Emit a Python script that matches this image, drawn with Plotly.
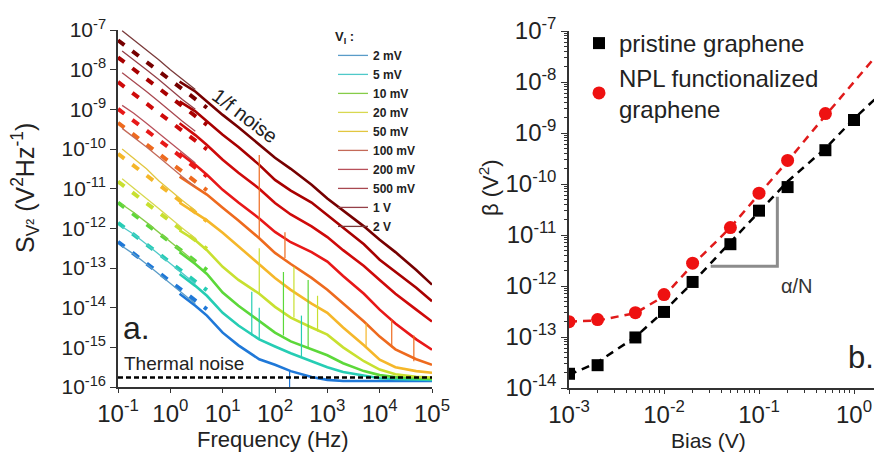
import numpy as np
import plotly.graph_objects as go

FONT = "Liberation Sans, Arial, sans-serif"

# ---------------- Panel a data (log10 of S) ----------------
bias_labels = ["2 mV", "5 mV", "10 mV", "20 mV", "50 mV", "100 mV", "200 mV", "500 mV", "1 V", "2 V"]
thick_colors = ["#1f78d8", "#26cdb4", "#5cd83a", "#c8e030", "#f5b72a", "#ee6a1e",
                "#e81818", "#cf0a0a", "#a80000", "#760000"]
thin_colors = ["#5a9cc8", "#4fc9c9", "#86cc48", "#d8d850", "#e2c640", "#c46a58",
               "#b8505a", "#a84850", "#944048", "#7a3a3a"]

thin_freq = [0.12, 0.2, 0.35, 0.6, 1.0, 1.7, 3.0]
thin_2mV = [-12.45, -12.65, -12.9, -13.15, -13.4, -13.65, -13.9]
thin_5mV = [-11.96, -12.15, -12.4, -12.65, -12.9, -13.15, -13.4]
thin_10mV = [-11.4, -11.6, -11.85, -12.1, -12.35, -12.6, -12.85]
thin_20mV = [-10.75, -11.0, -11.25, -11.5, -11.75, -12.0, -12.25]
thin_50mV = [-10.0, -10.25, -10.5, -10.8, -11.05, -11.3, -11.55]
thin_100mV = [-9.48, -9.7, -9.95, -10.2, -10.45, -10.7, -10.95]
thin_200mV = [-8.9, -9.1, -9.35, -9.6, -9.85, -10.1, -10.35]
thin_500mV = [-8.08, -8.3, -8.55, -8.8, -9.05, -9.3, -9.55]
thin_1V = [-7.53, -7.75, -8.0, -8.25, -8.5, -8.75, -9.0]
thin_2V = [-7.02, -7.25, -7.5, -7.75, -8.0, -8.25, -8.5]

thick_freq = [1.5, 3, 5, 10, 20, 50, 100, 200, 500, 1e3, 2e3, 5e3, 1e4, 2e4, 5e4, 1e5]
thick_2mV = [-13.65, -13.95, -14.2, -14.63, -14.95, -15.3, -15.44, -15.6, -15.75, -15.82, -15.85, -15.85, -15.85, -15.85, -15.85, -15.85]
thick_5mV = [-13.15, -13.45, -13.7, -14.13, -14.45, -14.8, -14.98, -15.15, -15.35, -15.5, -15.62, -15.72, -15.78, -15.8, -15.82, -15.82]
thick_10mV = [-12.6, -12.9, -13.15, -13.62, -13.95, -14.35, -14.63, -14.85, -15.05, -15.2, -15.4, -15.6, -15.7, -15.75, -15.78, -15.8]
thick_20mV = [-12.05, -12.3, -12.55, -12.97, -13.3, -13.65, -13.98, -14.25, -14.5, -14.68, -15.0, -15.35, -15.56, -15.68, -15.74, -15.76]
thick_50mV = [-11.35, -11.6, -11.8, -12.11, -12.45, -12.9, -13.25, -13.55, -13.9, -14.13, -14.5, -14.95, -15.31, -15.5, -15.6, -15.64]
thick_100mV = [-10.7, -10.95, -11.15, -11.48, -11.8, -12.25, -12.62, -12.9, -13.25, -13.55, -13.9, -14.35, -14.73, -15.05, -15.3, -15.44]
thick_200mV = [-10.1, -10.4, -10.65, -11.03, -11.35, -11.75, -12.09, -12.35, -12.6, -12.84, -13.2, -13.65, -14.05, -14.4, -14.8, -15.06]
thick_500mV = [-9.35, -9.65, -9.9, -10.27, -10.6, -11.0, -11.36, -11.65, -11.95, -12.22, -12.55, -12.95, -13.3, -13.65, -14.05, -14.35]
thick_1V = [-8.8, -9.05, -9.3, -9.64, -9.95, -10.4, -10.78, -11.05, -11.35, -11.66, -11.98, -12.4, -12.79, -13.1, -13.5, -13.84]
thick_2V = [-8.3, -8.55, -8.8, -9.14, -9.45, -9.88, -10.22, -10.5, -10.9, -11.25, -11.55, -11.95, -12.29, -12.6, -13.05, -13.42]

fit_freq = [0.1, 5.0]
fit_2mV = [-12.34, -14.04]
fit_5mV = [-11.86, -13.56]
fit_10mV = [-11.35, -13.05]
fit_20mV = [-10.82, -12.52]
fit_50mV = [-10.12, -11.82]
fit_100mV = [-9.34, -11.04]
fit_200mV = [-8.99, -10.69]
fit_500mV = [-8.31, -10.01]
fit_1V = [-7.69, -9.39]
fit_2V = [-7.26, -8.96]

# spikes: frequency, series index, base log10 S, peak log10 S
spike_freq = [50, 50, 50, 36, 145, 155, 230, 430, 190, 17000, 5500, 45000, 650, 320]
spike_series = [5, 3, 1, 1, 2, 5, 3, 2, 0, 5, 4, 5, 3, 1]
spike_base = [-12.25, -13.65, -14.8, -14.7, -14.7, -12.75, -14.25, -15.0, -15.6, -15.0, -15.0, -15.35, -14.6, -15.25]
spike_peak = [-10.15, -12.5, -14.0, -13.6, -13.1, -12.1, -12.97, -13.3, -16.3, -14.3, -14.4, -14.7, -13.7, -14.2]

thermal_freq = [0.1, 1e5]
thermal_level = [1.74e-16, 1.74e-16]

# tick exponents
freq_exps = [-1, 0, 1, 2, 3, 4, 5]
sv_exps = [-16, -15, -14, -13, -12, -11, -10, -9, -8, -7]
bias_exps = [-3, -2, -1, 0]
beta_exps = [-14, -13, -12, -11, -10, -9, -8, -7]

# ---------------- Panel b data ----------------
bias_pristine = [1e-3, 2e-3, 5e-3, 1e-2, 2e-2, 5e-2, 0.1, 0.2, 0.5, 1.0]
beta_pristine = [1.9e-14, 2.8e-14, 9.8e-14, 3.1e-13, 1.2e-12, 6.6e-12, 3.0e-11, 8.7e-11, 4.6e-10, 1.8e-9]
bias_npl = [1e-3, 2e-3, 5e-3, 1e-2, 2e-2, 5e-2, 0.1, 0.2, 0.5]
beta_npl = [2.0e-13, 2.2e-13, 3.0e-13, 6.8e-13, 2.8e-12, 1.4e-11, 6.6e-11, 2.9e-10, 2.4e-9]
fit_bias = [1e-3, 2e-3, 5e-3, 1e-2, 2e-2, 5e-2, 0.1, 0.2, 0.5, 1.0, 1.7]
fit_pristine = [1.8e-14, 3.2e-14, 1.0e-13, 3.2e-13, 1.17e-12, 7.1e-12, 2.8e-11, 1.12e-10, 5.0e-10, 1.9e-9, 4.8e-9]
fit_npl = [2.0e-13, 2.1e-13, 2.95e-13, 6.3e-13, 2.6e-12, 1.4e-11, 6.3e-11, 2.8e-10, 2.2e-9, 1.0e-8, 3.2e-8]
slope_x = [0.031, 0.156, 0.156]
slope_y = [2.45e-12, 2.45e-12, 5.6e-11]

thin_all = [thin_2mV, thin_5mV, thin_10mV, thin_20mV, thin_50mV, thin_100mV, thin_200mV, thin_500mV, thin_1V, thin_2V]
thick_all = [thick_2mV, thick_5mV, thick_10mV, thick_20mV, thick_50mV, thick_100mV, thick_200mV, thick_500mV, thick_1V, thick_2V]
fit_all = [fit_2mV, fit_5mV, fit_10mV, fit_20mV, fit_50mV, fit_100mV, fit_200mV, fit_500mV, fit_1V, fit_2V]

fig = go.Figure()

for i in range(len(bias_labels)):
    fig.add_trace(go.Scatter(x=thick_freq, y=np.power(10.0, thick_all[i]), mode="lines",
                             line=dict(color=thick_colors[i], width=2.6), showlegend=False,
                             hoverinfo="skip", xaxis="x", yaxis="y"))
for i in range(len(bias_labels)):
    xs, ys = [], []
    for f, s, b, p in zip(spike_freq, spike_series, spike_base, spike_peak):
        if s == i:
            xs += [f, f, None]
            ys += [10 ** b, 10 ** p, None]
    if xs:
        fig.add_trace(go.Scatter(x=xs, y=ys, mode="lines", line=dict(color=thick_colors[i], width=1.2),
                                 showlegend=False, hoverinfo="skip", xaxis="x", yaxis="y"))
for i in range(len(bias_labels)):
    fig.add_trace(go.Scatter(x=fit_freq, y=np.power(10.0, fit_all[i]), mode="lines",
                             line=dict(color=thick_colors[i], width=4, dash="8px,10px"),
                             showlegend=False, hoverinfo="skip", xaxis="x", yaxis="y"))
for i in range(len(bias_labels)):
    fig.add_trace(go.Scatter(x=thin_freq, y=np.power(10.0, thin_all[i]), mode="lines",
                             name=bias_labels[i], line=dict(color=thin_colors[i], width=1.3),
                             legend="legend", hoverinfo="skip", xaxis="x", yaxis="y"))
fig.add_trace(go.Scatter(x=thermal_freq, y=thermal_level, mode="lines",
                         line=dict(color="black", width=2.5, dash="5px,3px"),
                         showlegend=False, hoverinfo="skip", xaxis="x", yaxis="y"))

fig.add_trace(go.Scatter(x=slope_x, y=slope_y, mode="lines", line=dict(color="#8c8c8c", width=3),
                         showlegend=False, hoverinfo="skip", xaxis="x2", yaxis="y2"))
fig.add_trace(go.Scatter(x=fit_bias, y=fit_pristine, mode="lines", line=dict(color="black", width=2.5, dash="8px,6px"),
                         showlegend=False, hoverinfo="skip", xaxis="x2", yaxis="y2"))
fig.add_trace(go.Scatter(x=fit_bias, y=fit_npl, mode="lines", line=dict(color="#e01a1a", width=2.5, dash="8px,6px"),
                         showlegend=False, hoverinfo="skip", xaxis="x2", yaxis="y2"))
fig.add_trace(go.Scatter(x=bias_pristine, y=beta_pristine, mode="markers", name="pristine graphene",
                         marker=dict(symbol="square", size=12, color="black"), legend="legend2",
                         hoverinfo="skip", xaxis="x2", yaxis="y2"))
fig.add_trace(go.Scatter(x=bias_npl, y=beta_npl, mode="markers", name="NPL functionalized<br>graphene",
                         marker=dict(symbol="circle", size=13, color="#ee1111"), legend="legend2",
                         hoverinfo="skip", xaxis="x2", yaxis="y2"))


def pow_ticks(exps):
    return [10.0 ** e for e in exps], ["10<sup>%d</sup>" % e for e in exps]


def minor_vals(exps):
    return [d * 10.0 ** e for e in exps for d in range(2, 10)]


AX = "#333333"
common = dict(type="log", showgrid=False, zeroline=False, showline=True, linecolor=AX, linewidth=1.5,
              tickcolor=AX, tickwidth=1.3, automargin=False, tickmode="array")

fx_v, fx_t = pow_ticks(freq_exps)
sv_v, sv_t = pow_ticks(sv_exps)
bx_v, bx_t = pow_ticks(bias_exps)
by_v, by_t = pow_ticks(beta_exps)
minor_b_x = dict(ticks="outside", ticklen=3, tickcolor=AX, tickmode="array",
                 tickvals=minor_vals([-3, -2, -1, 0]), showgrid=False)
minor_b_y = dict(ticks="outside", ticklen=3, tickcolor=AX, tickmode="array",
                 tickvals=minor_vals(beta_exps), showgrid=False)
minor_b_top = dict(ticks="inside", ticklen=3, tickcolor=AX, tickmode="array",
                   tickvals=minor_vals([-3, -2, -1, 0]), showgrid=False)

xa_dom = [118 / 874, 432 / 874]
ya_dom = [1 - 387 / 453, 1 - 30 / 453]
xb_dom = [569 / 874, 1.0]
yb_dom = [1 - 388 / 453, 1 - 31 / 453]
xb_range = [-3, -3 + (874 - 569) / 95]

fig.update_layout(
    width=874, height=453, margin=dict(l=0, r=0, t=0, b=0, autoexpand=False),
    paper_bgcolor="white", plot_bgcolor="white", hovermode=False,
    font=dict(family=FONT, color="#222"),
    xaxis=dict(**common, domain=xa_dom, range=[-1, 5], anchor="y", ticks="outside", ticklen=4,
               tickvals=fx_v, ticktext=fx_t, tickfont=dict(size=24)),
    yaxis=dict(**common, domain=ya_dom, range=[-16, -7], anchor="x", ticks="outside", ticklen=6,
               tickvals=sv_v, ticktext=sv_t, tickfont=dict(size=21)),
    xaxis3=dict(**common, overlaying="x", anchor="y", side="top", range=[-1, 5], ticks="inside",
                ticklen=6, tickvals=fx_v, showticklabels=False),
    yaxis3=dict(**common, overlaying="y", anchor="x", side="right", range=[-16, -7], ticks="inside",
                ticklen=6, tickvals=sv_v, showticklabels=False),
    xaxis2=dict(**common, domain=xb_dom, range=xb_range, anchor="y2", ticks="outside", ticklen=4,
                tickvals=bx_v, ticktext=bx_t, minor=minor_b_x, tickfont=dict(size=24)),
    yaxis2=dict(**common, domain=yb_dom, range=[-14, -7], anchor="x2", ticks="outside", ticklen=6,
                tickvals=by_v, ticktext=by_t, minor=minor_b_y, tickfont=dict(size=24)),
    xaxis4=dict(**common, overlaying="x2", anchor="y2", side="top", range=xb_range, ticks="inside",
                ticklen=6, tickvals=bx_v, showticklabels=False, minor=minor_b_top),
    legend=dict(x=333 / 874, y=1 - 24 / 453, xanchor="left", yanchor="top", bgcolor="rgba(0,0,0,0)",
                font=dict(size=12, family=FONT, color="#222", weight="bold"),
                title=dict(text="<b>V<sub>I</sub> :</b>", font=dict(size=13, color="#222")),
                tracegroupgap=0),
    legend2=dict(x=579 / 874, y=1 - 21 / 453, xanchor="left", yanchor="top", bgcolor="rgba(0,0,0,0)",
                 font=dict(size=24, family=FONT, color="#222")),
)

# axis titles
fig.add_annotation(x=273 / 874, y=1 - 439 / 453, xref="paper", yref="paper", text="Frequency (Hz)",
                   xanchor="center", yanchor="middle", showarrow=False, font=dict(size=22, color="#222"))
fig.add_annotation(x=25 / 874, y=1 - 188 / 453, xref="paper", yref="paper",
                   text="S<sub>V²</sub> (V<sup>2</sup>Hz<sup>-1</sup>)", textangle=-90,
                   xanchor="center", yanchor="middle", showarrow=False, font=dict(size=25, color="#222"))
fig.add_annotation(x=708 / 874, y=1 - 440 / 453, xref="paper", yref="paper", text="Bias (V)",
                   xanchor="center", yanchor="middle", showarrow=False, font=dict(size=21, color="#222"))
fig.add_annotation(x=489 / 874, y=1 - 188 / 453, xref="paper", yref="paper", text="β (V<sup>2</sup>)",
                   textangle=-90, xanchor="center", yanchor="middle", showarrow=False,
                   font=dict(size=22, color="#222"))

fig.add_annotation(x=np.log10(27), y=-9.17, xref="x", yref="y", text="1/f noise", showarrow=False,
                   textangle=37, font=dict(size=20, color="#222"))
fig.add_annotation(x=-0.92, y=-15.41, xref="x", yref="y", text="Thermal noise", showarrow=False,
                   xanchor="left", yanchor="middle", font=dict(size=19, color="#222"))
fig.add_annotation(x=np.log10(0.23), y=-14.5, xref="x", yref="y", text="a.", showarrow=False,
                   xanchor="center", yanchor="middle", font=dict(size=32, color="#222"))
fig.add_annotation(x=-0.085, y=-13.4, xref="x2", yref="y2", text="b.", showarrow=False,
                   xanchor="left", yanchor="middle", font=dict(size=31, color="#222"))
fig.add_annotation(x=np.log10(0.25), y=-12.0, xref="x2", yref="y2", text="α/N", showarrow=False,
                   xanchor="center", yanchor="middle", font=dict(size=20, color="#333"))

fig.write_html("out.html", config={"displayModeBar": False},
               post_script="document.body.style.margin='0px';")
